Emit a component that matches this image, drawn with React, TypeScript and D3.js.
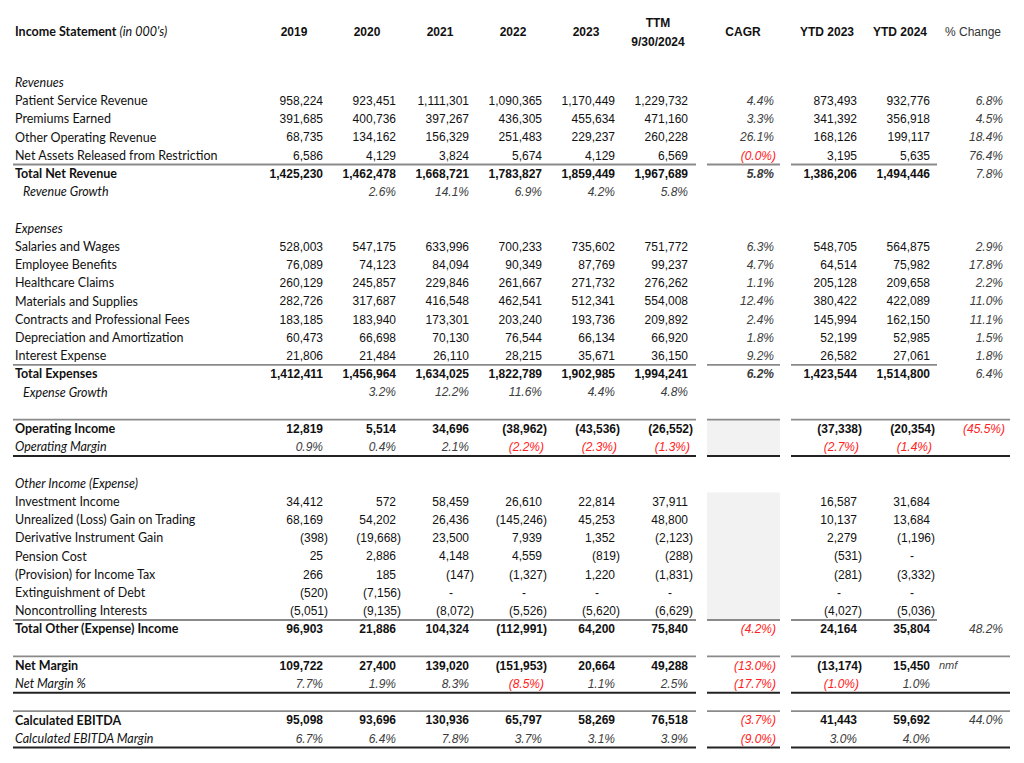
import React from "react";
import * as d3 from "d3";

// ---------- DATA ----------
const annualHeaders = ["2019", "2020", "2021", "2022", "2023"];
const ttmHeader = ["TTM", "9/30/2024"];
const ytdHeaders = ["YTD 2023", "YTD 2024"];

// [label, annual values 2019..TTM, CAGR %, [YTD 2023, YTD 2024], % change]
type Item = [string, number[], number | null, number[], number | null];

const revenueItems: Item[] = [
  ["Patient Service Revenue", [958224, 923451, 1111301, 1090365, 1170449, 1229732], 4.4, [873493, 932776], 6.8],
  ["Premiums Earned", [391685, 400736, 397267, 436305, 455634, 471160], 3.3, [341392, 356918], 4.5],
  ["Other Operating Revenue", [68735, 134162, 156329, 251483, 229237, 260228], 26.1, [168126, 199117], 18.4],
  ["Net Assets Released from Restriction", [6586, 4129, 3824, 5674, 4129, 6569], -0.04, [3195, 5635], 76.4],
];
const totalRevenue: Item = ["Total Net Revenue", [1425230, 1462478, 1668721, 1783827, 1859449, 1967689], 5.8, [1386206, 1494446], 7.8];
const revenueGrowth = [null, 2.6, 14.1, 6.9, 4.2, 5.8];

const expenseItems: Item[] = [
  ["Salaries and Wages", [528003, 547175, 633996, 700233, 735602, 751772], 6.3, [548705, 564875], 2.9],
  ["Employee Benefits", [76089, 74123, 84094, 90349, 87769, 99237], 4.7, [64514, 75982], 17.8],
  ["Healthcare Claims", [260129, 245857, 229846, 261667, 271732, 276262], 1.1, [205128, 209658], 2.2],
  ["Materials and Supplies", [282726, 317687, 416548, 462541, 512341, 554008], 12.4, [380422, 422089], 11.0],
  ["Contracts and Professional Fees", [183185, 183940, 173301, 203240, 193736, 209892], 2.4, [145994, 162150], 11.1],
  ["Depreciation and Amortization", [60473, 66698, 70130, 76544, 66134, 66920], 1.8, [52199, 52985], 1.5],
  ["Interest Expense", [21806, 21484, 26110, 28215, 35671, 36150], 9.2, [26582, 27061], 1.8],
];
const totalExpenses: Item = ["Total Expenses", [1412411, 1456964, 1634025, 1822789, 1902985, 1994241], 6.2, [1423544, 1514800], 6.4];
const expenseGrowth = [null, 3.2, 12.2, 11.6, 4.4, 4.8];

const operatingIncome: Item = ["Operating Income", [12819, 5514, 34696, -38962, -43536, -26552], null, [-37338, -20354], -45.5];
const operatingMargin = [0.9, 0.4, 2.1, -2.2, -2.3, -1.3];
const operatingMarginYtd = [-2.7, -1.4];

const otherItems: Item[] = [
  ["Investment Income", [34412, 572, 58459, 26610, 22814, 37911], null, [16587, 31684], null],
  ["Unrealized (Loss) Gain on Trading", [68169, 54202, 26436, -145246, 45253, 48800], null, [10137, 13684], null],
  ["Derivative Instrument Gain", [-398, -19668, 23500, 7939, 1352, -2123], null, [2279, -1196], null],
  ["Pension Cost", [25, 2886, 4148, 4559, -819, -288], null, [-531, 0], null],
  ["(Provision) for Income Tax", [266, 185, -147, -1327, 1220, -1831], null, [-281, -3332], null],
  ["Extinguishment of Debt", [-520, -7156, 0, 0, 0, 0], null, [0, 0], null],
  ["Noncontrolling Interests", [-5051, -9135, -8072, -5526, -5620, -6629], null, [-4027, -5036], null],
];
const totalOther: Item = ["Total Other (Expense) Income", [96903, 21886, 104324, -112991, 64200, 75840], -4.2, [24164, 35804], 48.2];

const netMargin: Item = ["Net Margin", [109722, 27400, 139020, -151953, 20664, 49288], -13.0, [-13174, 15450], null];
const netMarginPct = [7.7, 1.9, 8.3, -8.5, 1.1, 2.5];
const netMarginPctCagr = -17.7;
const netMarginPctYtd = [-1.0, 1.0];

const ebitda: Item = ["Calculated EBITDA", [95098, 93696, 130936, 65797, 58269, 76518], -3.7, [41443, 59692], 44.0];
const ebitdaMargin = [6.7, 6.4, 7.8, 3.7, 3.1, 3.9];
const ebitdaMarginCagr = -9.0;
const ebitdaMarginYtd = [3.0, 4.0];

// ---------- LAYOUT ----------
const W = 1024;
const H = 763;
const LABEL_FONT = "Lato, 'Noto Sans', sans-serif";
const NUM_FONT = "'Liberation Sans', Arial, sans-serif";
const RED = "#ff2020";
const TXT = "#111";
const PCT = "#3c3c3c";

const y = d3.scaleLinear().domain([0, 36]).range([82.5, 82.5 + 36 * 18.22]);
const xAnnual = d3.scaleLinear().domain([0, 5]).range([323, 688]);
const xCol = d3
  .scaleOrdinal<string, number>()
  .domain(["cagr", "ytd0", "ytd1", "chg"])
  .range([774, 857, 930, 1003]);

const fmtInt = d3.format(",.0f");
const fmtPct = d3.format(".1f");

type Cell = { x: number; v: number | null; pct: boolean; bold?: boolean; italicBold?: boolean };

function NumText({ c, row }: { c: Cell; row: number }) {
  if (c.v === null || c.v === undefined) return null;
  const yy = y(row);
  if (!c.pct && c.v === 0) {
    return (
      <text x={c.x - 16} y={yy} dy="0.35em" textAnchor="end" fontFamily={NUM_FONT} fontSize={12} fill={TXT}>
        -
      </text>
    );
  }
  const neg = c.v < 0;
  const abs = Math.abs(c.v);
  let s: string;
  if (c.pct) s = neg ? `(${fmtPct(abs)}%)` : `${fmtPct(abs)}%`;
  else s = neg ? `(${fmtInt(abs)})` : fmtInt(abs);
  const dx = neg ? (c.pct ? 2 : 5) : 0;
  const fill = c.pct ? (neg ? RED : PCT) : TXT;
  return (
    <text
      x={c.x + dx}
      y={yy}
      dy="0.35em"
      textAnchor="end"
      fontFamily={NUM_FONT}
      fontSize={12}
      fontWeight={c.bold || c.italicBold ? "bold" : "normal"}
      fontStyle={c.pct ? "italic" : "normal"}
      fill={fill}
    >
      {s}
    </text>
  );
}

function Label({ text, row, bold, italic, indent }: { text: string; row: number; bold?: boolean; italic?: boolean; indent?: boolean }) {
  return (
    <text
      x={indent ? 23 : 15}
      y={y(row)}
      dy="0.35em"
      fontFamily={LABEL_FONT}
      fontSize={12.5}
      fontWeight={bold ? "bold" : "normal"}
      fontStyle={italic ? "italic" : "normal"}
      fill={TXT}
    >
      {text}
    </text>
  );
}

function itemCells(it: Item, bold: boolean): Cell[] {
  const cells: Cell[] = it[1].map((v, i) => ({ x: xAnnual(i), v, pct: false, bold }));
  cells.push({ x: xCol("cagr"), v: it[2], pct: true, italicBold: bold && it[2] !== null && it[2] > 0 });
  cells.push({ x: xCol("ytd0"), v: it[3][0], pct: false, bold });
  cells.push({ x: xCol("ytd1"), v: it[3][1], pct: false, bold });
  cells.push({ x: xCol("chg"), v: it[4], pct: true });
  return cells;
}

function pctCells(annual: (number | null)[], cagr: number | null, ytd: number[] | null): Cell[] {
  const cells: Cell[] = annual.map((v, i) => ({ x: xAnnual(i), v, pct: true }));
  if (cagr !== null) cells.push({ x: xCol("cagr"), v: cagr, pct: true });
  if (ytd) {
    cells.push({ x: xCol("ytd0"), v: ytd[0], pct: true });
    cells.push({ x: xCol("ytd1"), v: ytd[1], pct: true });
  }
  return cells;
}

type RowDef = { row: number; label: string; bold?: boolean; italic?: boolean; indent?: boolean; cells: Cell[] };

const rows: RowDef[] = [];
rows.push({ row: 0, label: "Revenues", italic: true, cells: [] });
revenueItems.forEach((it, i) => rows.push({ row: 1 + i, label: it[0], cells: itemCells(it, false) }));
rows.push({ row: 5, label: totalRevenue[0], bold: true, cells: itemCells(totalRevenue, true) });
rows.push({ row: 6, label: "Revenue Growth", italic: true, indent: true, cells: pctCells(revenueGrowth, null, null) });
rows.push({ row: 8, label: "Expenses", italic: true, cells: [] });
expenseItems.forEach((it, i) => rows.push({ row: 9 + i, label: it[0], cells: itemCells(it, false) }));
rows.push({ row: 16, label: totalExpenses[0], bold: true, cells: itemCells(totalExpenses, true) });
rows.push({ row: 17, label: "Expense Growth", italic: true, indent: true, cells: pctCells(expenseGrowth, null, null) });
rows.push({ row: 19, label: operatingIncome[0], bold: true, cells: itemCells(operatingIncome, true) });
rows.push({ row: 20, label: "Operating Margin", italic: true, cells: pctCells(operatingMargin, null, operatingMarginYtd) });
rows.push({ row: 22, label: "Other Income (Expense)", italic: true, cells: [] });
otherItems.forEach((it, i) => rows.push({ row: 23 + i, label: it[0], cells: itemCells(it, false) }));
rows.push({ row: 30, label: totalOther[0], bold: true, cells: itemCells(totalOther, true) });
rows.push({ row: 32, label: netMargin[0], bold: true, cells: itemCells(netMargin, true) });
rows.push({ row: 33, label: "Net Margin %", italic: true, cells: pctCells(netMarginPct, netMarginPctCagr, netMarginPctYtd) });
rows.push({ row: 35, label: ebitda[0], bold: true, cells: itemCells(ebitda, true) });
rows.push({ row: 36, label: "Calculated EBITDA Margin", italic: true, cells: pctCells(ebitdaMargin, ebitdaMarginCagr, ebitdaMarginYtd) });

// rule lines: [between row index (upper), long?, dark?]
const rules: [number, boolean, boolean][] = [
  [4, false, false],
  [15, false, false],
  [18, true, false],
  [20, true, true],
  [29, false, false],
  [31, true, false],
  [33, true, true],
  [34, true, false],
  [36, true, true],
];
const shaded: [number, number][] = [
  [19, 20],
  [23, 29],
];

export default function App() {
  const mid = (r: number) => (y(r) + y(r + 1)) / 2;
  return (
    <svg width={W} height={H} style={{ position: "absolute", left: 0, top: 0, background: "#fff" }}>
      <rect width={W} height={H} fill="#fff" />
      {/* shaded CAGR cells */}
      {shaded.map(([a, b], i) => (
        <rect key={"s" + i} x={707} y={mid(a - 1)} width={73} height={mid(b) - mid(a - 1)} fill="#f2f2f2" />
      ))}
      {/* header */}
      <text x={15} y={32} dy="0.35em" fontFamily={LABEL_FONT} fontSize={12.5} fill={TXT}>
        <tspan fontWeight="bold">Income Statement </tspan>
        <tspan fontStyle="italic">(in 000's)</tspan>
      </text>
      {annualHeaders.map((h, i) => (
        <text key={h} x={xAnnual(i) - 29} y={32} dy="0.35em" textAnchor="middle" fontFamily={NUM_FONT} fontSize={12} fontWeight="bold" fill={TXT}>
          {h}
        </text>
      ))}
      {ttmHeader.map((h, i) => (
        <text key={h} x={xAnnual(5) - 30} y={23 + i * 18.5} dy="0.35em" textAnchor="middle" fontFamily={NUM_FONT} fontSize={12} fontWeight="bold" fill={TXT}>
          {h}
        </text>
      ))}
      <text x={xCol("cagr") - 31} y={32} dy="0.35em" textAnchor="middle" fontFamily={NUM_FONT} fontSize={12} fontWeight="bold" fill={TXT}>
        CAGR
      </text>
      {ytdHeaders.map((h, i) => (
        <text key={h} x={xCol(i === 0 ? "ytd0" : "ytd1") - 30} y={32} dy="0.35em" textAnchor="middle" fontFamily={NUM_FONT} fontSize={12} fontWeight="bold" fill={TXT}>
          {h}
        </text>
      ))}
      <text x={xCol("chg") - 30} y={32} dy="0.35em" textAnchor="middle" fontFamily={NUM_FONT} fontSize={12} fill="#333">
        % Change
      </text>
      {/* rows */}
      {rows.map((r) => (
        <g key={"r" + r.row}>
          <Label text={r.label} row={r.row} bold={r.bold} italic={r.italic} indent={r.indent} />
          {r.cells.map((c, j) => (
            <NumText key={j} c={c} row={r.row} />
          ))}
        </g>
      ))}
      <text x={939} y={y(32)} dy="0.35em" fontFamily={NUM_FONT} fontSize={11} fontStyle="italic" fill="#444">
        nmf
      </text>
      {/* rules */}
      {rules.map(([r, long, dark], i) => {
        const yy = mid(r);
        const stroke = dark ? "#222" : "#8a8a8a";
        const sw = dark ? 2 : 1.8;
        const segs: [number, number][] = [
          [13, 696],
          [707, 780],
          [791, long ? 1010 : 937],
        ];
        return (
          <g key={"l" + i}>
            {segs.map(([a, b], k) => (
              <line key={k} x1={a} x2={b} y1={yy} y2={yy} stroke={stroke} strokeWidth={sw} />
            ))}
          </g>
        );
      })}
    </svg>
  );
}
